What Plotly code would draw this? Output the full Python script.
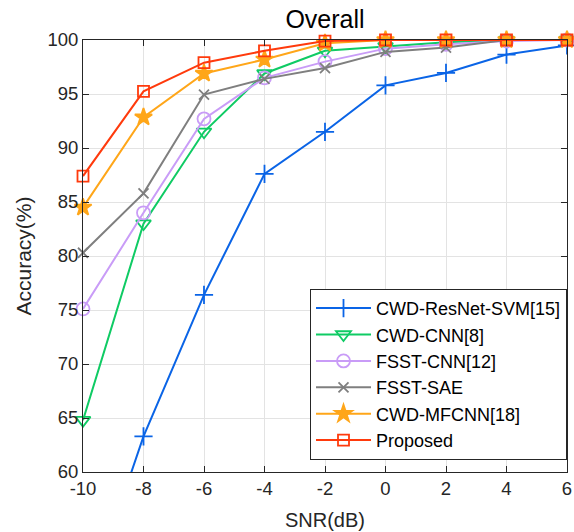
import plotly.graph_objects as go

snr = [-10, -8, -6, -4, -2, 0, 2, 4, 6]
resnet_svm = [46.8, 63.3, 76.4, 87.6, 91.5, 95.8, 96.95, 98.65, 99.5]
cwd_cnn = [64.8, 83.0, 91.5, 96.9, 99.0, 99.4, 99.8, 100, 100]
fsst_cnn = [75.1, 84.0, 92.7, 96.5, 98.0, 99.2, 99.6, 99.9, 100]
fsst_sae = [80.3, 85.8, 94.95, 96.4, 97.4, 98.9, 99.3, 100, 100]
cwd_mfcnn = [84.5, 92.85, 96.9, 98.2, 99.7, 100, 100, 100, 100]
proposed = [87.4, 95.25, 97.9, 99.0, 99.9, 100, 100, 100, 100]

names = ["CWD-ResNet-SVM[15]", "CWD-CNN[8]", "FSST-CNN[12]", "FSST-SAE", "CWD-MFCNN[18]", "Proposed"]
series = [resnet_svm, cwd_cnn, fsst_cnn, fsst_sae, cwd_mfcnn, proposed]
colors = ["#0a64e6", "#0fcb64", "#c99cf7", "#7f7f7f", "#ffa619", "#ff3a0c"]
symbols = ["cross-thin-open", "triangle-down-open", "circle-open", "x-thin-open", "star", "square-open"]
sizes = [13, 13, 13, 10, 13, 11]

x_ticks = [-10, -8, -6, -4, -2, 0, 2, 4, 6]
y_ticks = [60, 65, 70, 75, 80, 85, 90, 95, 100]

fig = go.Figure()
for n, s, c, sym, sz in zip(names, series, colors, symbols, sizes):
    fig.add_trace(go.Scatter(
        x=snr, y=s, name=n, mode="lines+markers",
        line=dict(color=c, width=2),
        marker=dict(symbol=sym, size=sz, color=c, line=dict(color=c, width=1.8)),
        cliponaxis=False,
    ))

font_family = "Liberation Sans, Arial, sans-serif"
fig.update_layout(
    width=574, height=532,
    margin=dict(l=83, r=7, t=40, b=60, autoexpand=False),
    paper_bgcolor="white", plot_bgcolor="white",
    font=dict(family=font_family, size=18.5, color="#262626"),
    title=dict(text="Overall", x=0.5, xref="paper", xanchor="center",
               y=1 - 19 / 532, yref="container", yanchor="middle",
               font=dict(size=25, color="#000000")),
    legend=dict(x=1, xanchor="right", y=0.028, yanchor="bottom",
                bordercolor="#262626", borderwidth=1, bgcolor="white",
                font=dict(size=18, color="#000000"), itemwidth=55,
                tracegroupgap=0),
    showlegend=True,
)
fig.update_xaxes(
    range=[-10, 6], tickvals=x_ticks, ticktext=[str(v) for v in x_ticks],
    showgrid=True, gridcolor="#e3e3e3", gridwidth=1,
    showline=True, linecolor="#262626", linewidth=1, mirror="ticks",
    ticks="inside", ticklen=6, tickcolor="#262626", zeroline=False,
    automargin=False,
    title=dict(text="SNR(dB)", font=dict(size=20), standoff=14),
)
fig.update_yaxes(
    range=[60, 100], tickvals=y_ticks, ticktext=[str(v) for v in y_ticks],
    showgrid=True, gridcolor="#e3e3e3", gridwidth=1,
    showline=True, linecolor="#262626", linewidth=1, mirror="ticks",
    ticks="inside", ticklen=6, tickcolor="#262626", zeroline=False,
    automargin=False,
    title=dict(text="Accuracy(%)", font=dict(size=21), standoff=10),
)
fig.write_html("out.html", config={"displayModeBar": False},
               post_script="document.body.style.margin='0';document.body.style.padding='0';")
